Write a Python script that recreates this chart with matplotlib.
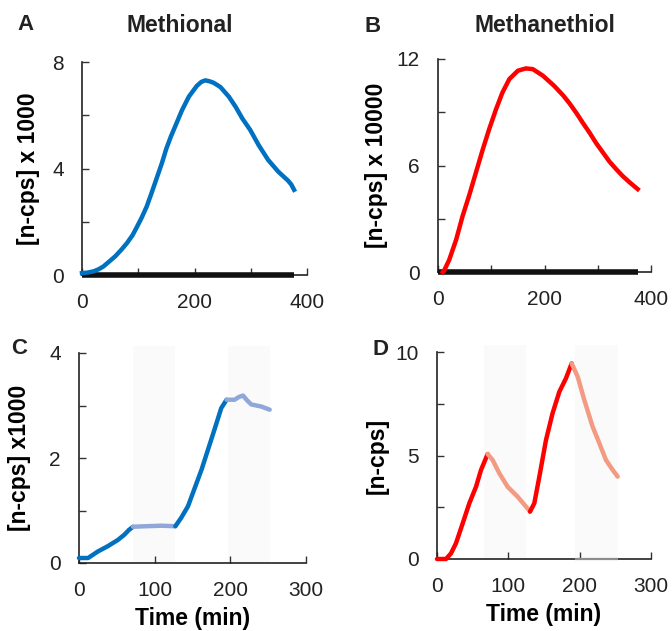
import matplotlib
matplotlib.use("Agg")
import matplotlib.pyplot as plt
from matplotlib.patches import Rectangle
import matplotlib.transforms as mtransforms

plt.rcParams['font.family'] = ['Liberation Sans', 'DejaVu Sans']

# ---- Panel A: methional (n-cps x 1000) ----
a_time = [0, 10, 21, 30, 38, 48, 59, 70, 80, 90, 98, 106, 115, 124, 133, 142, 150, 158,
          166, 178, 190, 204, 212, 219, 226, 234, 246, 261, 273, 285, 299, 314, 331, 349,
          366, 372, 377]
a_blue = [0.07, 0.09, 0.14, 0.22, 0.32, 0.5, 0.7, 0.95, 1.2, 1.5, 1.82, 2.15, 2.57, 3.1,
          3.65, 4.2, 4.75, 5.2, 5.6, 6.2, 6.7, 7.1, 7.25, 7.31, 7.28, 7.22, 7.06, 6.7,
          6.32, 5.88, 5.45, 4.88, 4.32, 3.88, 3.55, 3.4, 3.2]
a_ctrl_time = [0, 376]
a_ctrl = [0.0, 0.0]

# ---- Panel B: methanethiol (n-cps x 10000) ----
b_time = [9, 12, 21, 34, 46, 59, 71, 84, 96, 109, 121, 134, 150, 165, 178, 197, 218, 235,
          247, 260, 272, 285, 297, 310, 322, 335, 347, 361, 375]
b_red = [0.0, 0.11, 0.68, 1.81, 3.13, 4.36, 5.58, 6.9, 8.04, 9.17, 10.11, 10.87, 11.34,
         11.47, 11.43, 11.06, 10.49, 9.95, 9.5, 8.95, 8.4, 7.83, 7.26, 6.72, 6.22, 5.78,
         5.4, 5.02, 4.67]
b_ctrl_time = [0, 376]
b_ctrl = [0.0, 0.0]

# ---- Panel C: methional, cycled (n-cps x1000) ----
c_time_1 = [0, 12, 25, 38, 51.5, 60, 66, 71.4]
c_val_1 = [0.095, 0.095, 0.22, 0.32, 0.44, 0.54, 0.63, 0.69]
c_time_2 = [71.4, 87, 109, 127.3]
c_val_2 = [0.69, 0.70, 0.71, 0.70]
c_time_3 = [127.3, 135, 144, 153, 162, 170.5, 179, 188, 195]
c_val_3 = [0.70, 0.86, 1.08, 1.43, 1.78, 2.16, 2.54, 2.95, 3.11]
c_time_4 = [195, 205.7, 211, 216.7, 222, 227.7, 241, 252]
c_val_4 = [3.11, 3.11, 3.16, 3.19, 3.1, 3.02, 2.98, 2.92]
c_shade = [(71.4, 127.3), (197, 252)]

# ---- Panel D: methanethiol, cycled (n-cps) ----
d_time_1 = [0, 12.6, 19.6, 26.6, 36, 45.3, 54.7, 61.7, 71]
d_val_1 = [0.0, 0.0, 0.27, 0.76, 1.72, 2.69, 3.49, 4.3, 5.07]
d_time_2 = [71, 78, 87.4, 99, 113, 124.8, 130.4]
d_val_2 = [5.07, 4.78, 4.14, 3.49, 3.01, 2.53, 2.29]
d_time_3 = [130.4, 136.4, 143.5, 152.8, 162, 171.5, 180.8, 188.8]
d_val_3 = [2.29, 2.69, 3.98, 5.75, 7.04, 8.08, 8.73, 9.45]
d_time_4 = [188.8, 197.2, 206.5, 218.2, 227.6, 236.9, 246.3, 253.3]
d_val_4 = [9.45, 8.81, 7.68, 6.39, 5.59, 4.78, 4.3, 3.98]
d_shade = [(66.4, 124.8), (194, 253.3)]

BLUE = '#0070C0'
BLUE_LIGHT = '#8FA8D9'
RED = '#FF0000'
SALMON = '#F29A82'
SHADE = '#FAFAFA'

W, H = 672, 631
fig = plt.figure(figsize=(W / 100, H / 100), dpi=100)


def px_axes(left, right, top, bottom):
    return fig.add_axes([left / W, 1 - bottom / H, (right - left) / W, (bottom - top) / H])


def style(ax, xlim, xticks, xlabels, ylim, yticks, ylabels):
    ax.set_xlim(*xlim)
    ax.set_ylim(*ylim)
    ax.set_xticks(xticks)
    ax.set_xticklabels(xlabels)
    ax.set_yticks(yticks)
    ax.set_yticklabels(ylabels)
    for s in ('top', 'right'):
        ax.spines[s].set_visible(False)
    for s in ('left', 'bottom'):
        ax.spines[s].set_linewidth(1.2)
        ax.spines[s].set_color('#222222')
    ax.tick_params(direction='in', length=5, width=1.0, color='#333333',
                   labelsize=15, labelcolor='#222222')
    ax.tick_params(axis='y', pad=13)
    ax.tick_params(axis='x', pad=13)


def shade(ax, spans):
    trans = mtransforms.blended_transform_factory(ax.transData, ax.transAxes)
    for x0, x1 in spans:
        ax.add_patch(Rectangle((x0, 0), x1 - x0, 1.035, transform=trans,
                               facecolor=SHADE, edgecolor='none', clip_on=False, zorder=0))


LW = 3.2
LABEL_FS = 16.5

# A
axA = px_axes(82, 307, 62, 275)
style(axA, (0, 400), [0, 100, 200, 300, 400], ['0', '', '200', '', '400'],
      (0, 8), [0, 2, 4, 6, 8], ['0', '', '4', '', '8'])
axA.plot(a_ctrl_time, a_ctrl, color='#111111', lw=4, solid_capstyle='butt', clip_on=False, zorder=3)
axA.plot(a_time, a_blue, color=BLUE, lw=LW, clip_on=False, zorder=4)
axA.set_ylabel('[n-cps] x 1000', fontsize=LABEL_FS, fontweight='bold', labelpad=9)

# B
axB = px_axes(438, 651, 59, 272)
style(axB, (0, 400), [0, 100, 200, 300, 400], ['0', '', '200', '', '400'],
      (0, 12), [0, 3, 6, 9, 12], ['0', '', '6', '', '12'])
axB.plot(b_ctrl_time, b_ctrl, color='#111111', lw=4, solid_capstyle='butt', clip_on=False, zorder=3)
axB.plot(b_time, b_red, color=RED, lw=LW, clip_on=False, zorder=4)
axB.set_ylabel('[n-cps] x 10000', fontsize=LABEL_FS, fontweight='bold', labelpad=6)

# C
axC = px_axes(79, 306, 353, 563)
style(axC, (0, 300), [0, 100, 200, 300], ['0', '100', '200', '300'],
      (0, 4), [0, 1, 2, 3, 4], ['0', '', '2', '', '4'])
shade(axC, c_shade)
for t, v, c in ((c_time_1, c_val_1, BLUE), (c_time_2, c_val_2, BLUE_LIGHT),
                (c_time_3, c_val_3, BLUE), (c_time_4, c_val_4, BLUE_LIGHT)):
    axC.plot(t, v, color=c, lw=LW, clip_on=False, zorder=4, solid_capstyle='round')
axC.set_ylabel('[n-cps] x1000', fontsize=LABEL_FS, fontweight='bold', labelpad=13)
axC.set_xlabel('Time (min)', fontsize=LABEL_FS, fontweight='bold', labelpad=5)

# D
axD = px_axes(437, 651, 352, 559)
style(axD, (0, 300), [0, 100, 200, 300], ['0', '100', '200', '300'],
      (0, 10), [0, 2.5, 5, 7.5, 10], ['0', '', '5', '', '10'])
shade(axD, d_shade)
# the later shaded window greys out the baseline beneath it
axD.plot([d_shade[1][0], d_shade[1][1]], [0, 0], color='#8C8C8C', lw=1.6,
         solid_capstyle='butt', clip_on=False, zorder=3)
for t, v, c in ((d_time_1, d_val_1, RED), (d_time_2, d_val_2, SALMON),
                (d_time_3, d_val_3, RED), (d_time_4, d_val_4, SALMON)):
    axD.plot(t, v, color=c, lw=LW, clip_on=False, zorder=4, solid_capstyle='round')
axD.set_ylabel('[n-cps]', fontsize=LABEL_FS, fontweight='bold', labelpad=5)
axD.set_xlabel('Time (min)', fontsize=LABEL_FS, fontweight='bold', labelpad=5)

# Titles and panel letters
fig.text(180 / W, 1 - 25 / H, 'Methional', ha='center', va='center', fontsize=LABEL_FS,
         fontweight='bold', color='#222222')
fig.text(545 / W, 1 - 25 / H, 'Methanethiol', ha='center', va='center', fontsize=LABEL_FS,
         fontweight='bold', color='#222222')
for x, y, s in ((25, 25, 'A'), (373, 26, 'B'), (19, 348, 'C'), (380, 349, 'D')):
    fig.text(x / W, 1 - y / H, s, ha='center', va='center', fontsize=16, fontweight='bold',
             color='#222222')

fig.savefig('out.png', dpi=100)
